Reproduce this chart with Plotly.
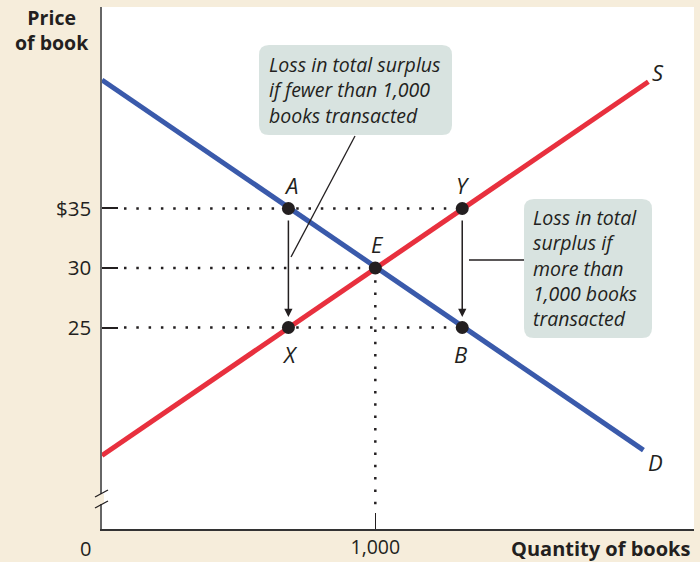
import plotly.graph_objects as go

# ---------------- data ----------------
demand_q = [0, 1981]
demand_p = [45.8, 14.7]
supply_q = [0, 1999]
supply_p = [14.25, 45.65]
point_names = ["A", "Y", "X", "B", "E"]
point_q = [682, 1318, 682, 1318, 1000]
point_p = [35, 35, 25, 25, 30]
price_ticks = [35, 30, 25]
price_tick_labels = ["$35", "30", "25"]
qty_ticks = [1000]
qty_tick_labels = ["1,000"]
box1_lines = ["Loss in total surplus", "if fewer than 1,000", "books transacted"]
box2_lines = ["Loss in total", "surplus if", "more than", "1,000 books", "transacted"]

# ---------------- layout geometry ----------------
W, H = 700, 562
L, R, T, B = 102, 6, 7, 33
PW, PH = W - L - R, H - T - B
XR = [0, 2166]
YR = [8.07, 51.93]

FONT = "Open Sans"
CREAM = "#f6eddb"
BOXC = "#d8e3e0"
BLUE = "#3a5aab"
RED = "#e8303e"
INK = "#231f20"


def xd(px):
    return XR[0] + (px - L) / PW * (XR[1] - XR[0])


def yd(py):
    return YR[1] - (py - T) / PH * (YR[1] - YR[0])


def xp(px):
    return (px - L) / PW


def yp(py):
    return (H - B - py) / PH


fig = go.Figure()

dot = dict(color=INK, width=2.5, dash="2.5px,9.8px")
# dotted guide lines
fig.add_trace(go.Scatter(x=[xd(124), point_q[1]], y=[point_p[0], point_p[1]], mode="lines", line=dot, hoverinfo="skip"))
fig.add_trace(go.Scatter(x=[xd(124), point_q[4]], y=[point_p[4], point_p[4]], mode="lines", line=dot, hoverinfo="skip"))
fig.add_trace(go.Scatter(x=[xd(124), point_q[3]], y=[point_p[2], point_p[3]], mode="lines", line=dot, hoverinfo="skip"))
fig.add_trace(go.Scatter(x=[point_q[4], point_q[4]], y=[point_p[4], yd(512)], mode="lines", line=dot, hoverinfo="skip"))

# curves
fig.add_trace(go.Scatter(x=demand_q, y=demand_p, mode="lines", line=dict(color=BLUE, width=5)))
fig.add_trace(go.Scatter(x=supply_q, y=supply_p, mode="lines", line=dict(color=RED, width=5)))

# points
fig.add_trace(go.Scatter(x=point_q, y=point_p, mode="markers", marker=dict(color=INK, size=13)))

annotations = []
# point labels
lab_off = {"A": (3, -23), "Y": (1, -23), "X": (2, 26), "B": (-2, 26), "E": (2, -24)}
for n, q, p in zip(point_names, point_q, point_p):
    dx, dy = lab_off[n]
    annotations.append(dict(x=q, y=p, xref="x", yref="y", text=f"<i>{n}</i>", showarrow=False,
                            xanchor="center", yanchor="middle",
                            xshift=dx, yshift=-dy, font=dict(family=FONT, size=22, color=INK)))
annotations.append(dict(x=xp(658), y=yp(72), xref="paper", yref="paper", text="<i>S</i>", showarrow=False,
                        xanchor="center", yanchor="middle", font=dict(family=FONT, size=22, color=INK)))
annotations.append(dict(x=xp(655), y=yp(462), xref="paper", yref="paper", text="<i>D</i>", showarrow=False,
                        xanchor="center", yanchor="middle", font=dict(family=FONT, size=22, color=INK)))

# arrows A->X and Y->B
for i_from, i_to in [(0, 2), (1, 3)]:
    annotations.append(dict(x=point_q[i_to], y=yd(317), ax=point_q[i_from], ay=yd(219),
                            xref="x", yref="y", axref="x", ayref="y", text="", showarrow=True,
                            arrowhead=2, arrowsize=1.1, arrowwidth=1.5, arrowcolor=INK))

# box texts
annotations.append(dict(x=xp(267), y=yp(90), xref="paper", yref="paper", xanchor="left", align="left",
                        yanchor="middle", text="<i>" + "<br>".join(box1_lines) + "</i>", showarrow=False,
                        font=dict(family=FONT, size=19.5, color=INK)))
annotations.append(dict(x=xp(531), y=yp(268), xref="paper", yref="paper", xanchor="left", align="left",
                        yanchor="middle", text="<i>" + "<br>".join(box2_lines) + "</i>", showarrow=False,
                        font=dict(family=FONT, size=19.5, color=INK)))

# axis titles
annotations.append(dict(x=xp(52), y=yp(30), xref="paper", yref="paper", text="<b>Price<br>of book</b>",
                        showarrow=False, align="center", xanchor="center", yanchor="middle",
                        font=dict(family=FONT, size=19.5, color=INK)))
annotations.append(dict(x=xp(692), y=yp(548), xref="paper", yref="paper", xanchor="right", yanchor="middle",
                        text="<b>Quantity of books</b>", showarrow=False,
                        font=dict(family=FONT, size=20, color=INK)))
annotations.append(dict(x=xp(85), y=yp(548), xref="paper", yref="paper", text="0", showarrow=False,
                        xanchor="center", yanchor="middle",
                        font=dict(family=FONT, size=20, color=INK)))


def rrect(x0, y0, x1, y1, r):
    pts = [
        f"M {xp(x0 + r)},{yp(y0)}",
        f"L {xp(x1 - r)},{yp(y0)}",
        f"Q {xp(x1)},{yp(y0)} {xp(x1)},{yp(y0 + r)}",
        f"L {xp(x1)},{yp(y1 - r)}",
        f"Q {xp(x1)},{yp(y1)} {xp(x1 - r)},{yp(y1)}",
        f"L {xp(x0 + r)},{yp(y1)}",
        f"Q {xp(x0)},{yp(y1)} {xp(x0)},{yp(y1 - r)}",
        f"L {xp(x0)},{yp(y0 + r)}",
        f"Q {xp(x0)},{yp(y0)} {xp(x0 + r)},{yp(y0)}",
        "Z",
    ]
    return " ".join(pts)


shapes = [
    dict(type="path", path=rrect(259, 45, 452, 135, 10), xref="paper", yref="paper",
         fillcolor=BOXC, line=dict(width=0), layer="above"),
    dict(type="path", path=rrect(524, 199, 652, 338, 10), xref="paper", yref="paper",
         fillcolor=BOXC, line=dict(width=0), layer="above"),
    # leader lines
    dict(type="line", x0=xp(355), y0=yp(136), x1=xp(291), y1=yp(257), xref="paper", yref="paper",
         line=dict(color=INK, width=1.3), layer="above"),
    dict(type="line", x0=xp(469), y0=yp(260), x1=xp(524), y1=yp(260), xref="paper", yref="paper",
         line=dict(color=INK, width=1.3), layer="above"),
    # axis break
    dict(type="rect", x0=xp(100), y0=yp(494), x1=xp(104), y1=yp(504), xref="paper", yref="paper",
         fillcolor=CREAM, line=dict(width=0), layer="above"),
    dict(type="line", x0=xp(95), y0=yp(497), x1=xp(108), y1=yp(490), xref="paper", yref="paper",
         line=dict(color=INK, width=1.3), layer="above"),
    dict(type="line", x0=xp(95), y0=yp(508), x1=xp(108), y1=yp(501), xref="paper", yref="paper",
         line=dict(color=INK, width=1.3), layer="above"),
]

fig.update_layout(
    width=W, height=H,
    margin=dict(l=L, r=R, t=T, b=B, pad=0, autoexpand=False),
    paper_bgcolor=CREAM, plot_bgcolor="white",
    showlegend=False,
    annotations=annotations,
    shapes=shapes,
    font=dict(family=FONT, color=INK),
)
fig.update_xaxes(range=XR, showgrid=False, zeroline=False, showline=True, linecolor="#333333", linewidth=2,
                 tickmode="array", tickvals=qty_ticks, ticktext=qty_tick_labels, ticks="inside", ticklen=16,
                 tickwidth=1.3, tickcolor=INK, tickfont=dict(family=FONT, size=19.5, color=INK),
                 ticklabelstandoff=0, automargin=False)
fig.update_yaxes(range=YR, showgrid=False, zeroline=False, showline=True, linecolor="#666666", linewidth=1.5,
                 tickmode="array", tickvals=price_ticks, ticktext=price_tick_labels, ticks="inside", ticklen=16,
                 tickwidth=1.5, tickcolor=INK, tickfont=dict(family=FONT, size=20.5, color=INK),
                 ticklabelstandoff=5, automargin=False)

fig.write_html("out.html", config={"displayModeBar": False},
               post_script="document.body.style.margin='0';document.body.style.padding='0';")
